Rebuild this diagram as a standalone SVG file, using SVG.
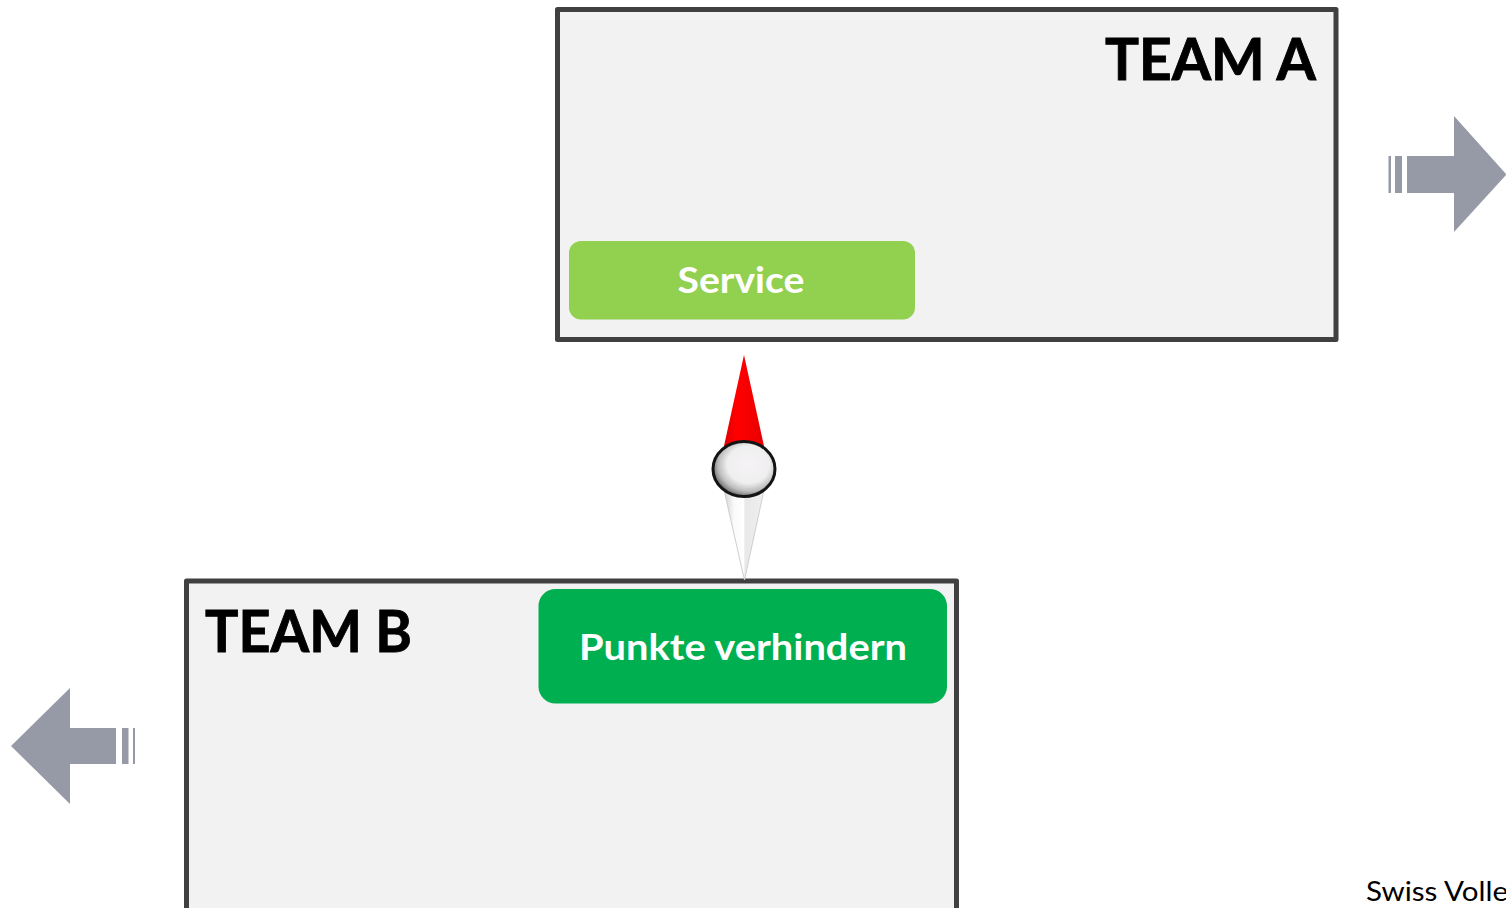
<svg xmlns="http://www.w3.org/2000/svg" width="1506" height="908" viewBox="0 0 1506 908">
<style>
.team{fill:#f2f2f2;stroke:#404040;stroke-width:5;stroke-linejoin:round}
.title{font-family:Lato,"Liberation Sans",sans-serif;font-weight:700;font-size:58px;fill:#000;stroke:#000;stroke-width:.9}
.lab{font-family:Lato,"Liberation Sans",sans-serif;font-weight:700;font-size:37px;fill:#fff;text-anchor:middle}
.arr{fill:#9699a6}
</style>
<defs>
<linearGradient id="red" x1="0" x2="1" y1="0" y2="0"><stop offset="0" stop-color="#dd0000"/><stop offset=".3" stop-color="#ff0000"/><stop offset=".7" stop-color="#f40000"/><stop offset="1" stop-color="#e40000"/></linearGradient>
<linearGradient id="wht" x1="0" x2="1" y1="0" y2="0"><stop offset="0" stop-color="#d0d0d0"/><stop offset=".25" stop-color="#fafafa"/><stop offset=".5" stop-color="#ffffff"/><stop offset=".52" stop-color="#e8e8e8"/><stop offset="1" stop-color="#f0f0f0"/></linearGradient>
<radialGradient id="ball" cx=".57" cy=".42" r=".62"><stop offset="0" stop-color="#f5f3f5"/><stop offset=".55" stop-color="#f0eff0"/><stop offset=".78" stop-color="#bdbdbd"/><stop offset="1" stop-color="#5a5a5a"/></radialGradient>
</defs>
<rect width="1506" height="908" fill="#fff"/>
<g id="team-a">
<rect class="team" x="557.500" y="9.500" width="778.500" height="330"/>
<text class="title" x="1105" y="79.500" textLength="211" lengthAdjust="spacingAndGlyphs">TEAM A</text>
</g>
<g id="service">
<rect x="569" y="241" width="346" height="78.500" rx="12" fill="#92d050"/>
<text class="lab" x="741" y="293" textLength="127" lengthAdjust="spacingAndGlyphs">Service</text>
</g>
<g id="team-b">
<rect class="team" x="186.500" y="581" width="770" height="340"/>
<text class="title" x="205" y="651.500" textLength="207" lengthAdjust="spacingAndGlyphs">TEAM B</text>
</g>
<g id="punkte">
<rect x="538.500" y="589" width="408.500" height="114.500" rx="17" fill="#00b050"/>
<text class="lab" x="743" y="660" textLength="328" lengthAdjust="spacingAndGlyphs">Punkte verhindern</text>
</g>
<g id="connectors">
<g id="arrow-right">
<path class="arr" d="M1407 156H1454V116L1506 174V175L1454 232V193H1407Z"/>
<rect class="arr" x="1395" y="156" width="7" height="37"/>
<rect class="arr" x="1388.500" y="156" width="2.500" height="37"/>
</g>
<g id="arrow-left">
<path class="arr" d="M116 728H70V688L11 746L70 804V764H116Z"/>
<rect class="arr" x="122" y="728" width="6.500" height="36"/>
<rect class="arr" x="133" y="728" width="2" height="36"/>
</g>
</g>
<g id="marker">
<path d="M744 355L764 446H724Z" fill="url(#red)"/>
<path d="M724 490H764L744.500 580Z" fill="url(#wht)"/>
<path d="M724 490L744.500 580L764 490" fill="none" stroke="#cfcfcf" stroke-width="1"/>
<ellipse cx="744" cy="469" rx="31" ry="27.500" fill="url(#ball)" stroke="#141414" stroke-width="3"/>
</g>
<g id="credit">
<text x="1366" y="901" font-family="Lato,'Liberation Sans',sans-serif" font-size="27" fill="#000" textLength="142" lengthAdjust="spacingAndGlyphs">Swiss Volle</text>
</g>
</svg>
